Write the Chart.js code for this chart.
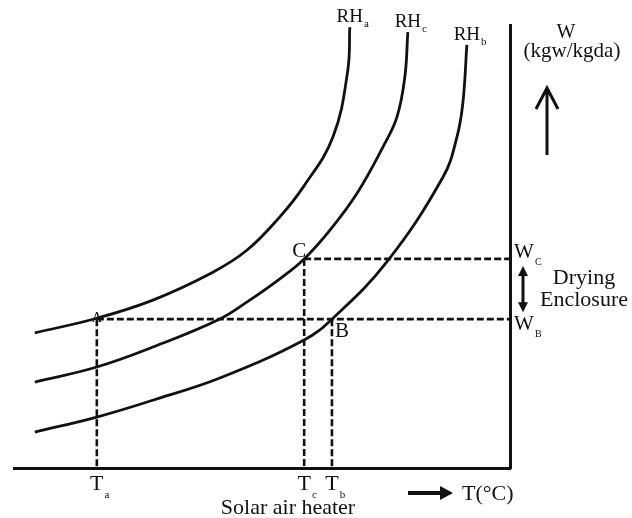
<!DOCTYPE html>
<html>
<head>
<meta charset="utf-8">
<script src="https://cdn.jsdelivr.net/npm/chart.js@4.4.0/dist/chart.umd.min.js"></script>
<style>
  html, body { margin: 0; padding: 0; background: #fff; }
  #wrap { width: 632px; height: 518px; }
</style>
</head>
<body>
<div id="wrap"><canvas id="myChart" width="632" height="518"></canvas></div>
<script>
// relative humidity curves (T, W)
var rhaT = [4.2, 16.7, 28.0, 40.1, 47.0, 53.6, 58.3, 64.3, 67.3, 67.7];
var rhaW = [30.5, 33.8, 37.9, 44.2, 49.2, 56.7, 63.4, 74.7, 89.8, 99.5];
var rhcT = [4.2, 16.7, 28.0, 41.1, 47.0, 53.6, 58.5, 63.7, 69.2, 74.4, 77.2, 78.8, 79.4];
var rhcW = [19.4, 22.8, 27.3, 33.4, 37.5, 42.7, 47.2, 53.7, 62.1, 72.5, 79.2, 88.3, 98.4];
var rhbT = [4.2, 16.7, 28.0, 41.5, 58.5, 64.1, 75.0, 86.5, 89.3, 90.5, 91.3];
var rhbW = [8.1, 11.5, 15.3, 20.3, 28.9, 33.6, 46.3, 65.7, 74.7, 82.4, 95.5];
var curveNames = ['a', 'c', 'b'];

// states A, C, B
var stateNames = ['A', 'C', 'B'];
var stateSubs = ['a', 'c', 'b'];
var stateT = [16.7, 58.5, 64.1];
var stateW = [33.6, 47.2, 33.6];

var X_MAX = 100, Y_MAX = 100;
var FONT = '"Liberation Serif", "Times New Roman", serif';
var INK = '#111';

function toPoints(xs, ys) {
  return xs.map(function (v, i) { return { x: v, y: ys[i] }; });
}

var curves = [toPoints(rhaT, rhaW), toPoints(rhcT, rhcW), toPoints(rhbT, rhbW)];

var datasets = curves.map(function (pts) {
  return {
    data: pts,
    showLine: true,
    borderColor: INK,
    borderWidth: 2.8,
    pointRadius: 0,
    tension: 0.4,
    clip: false
  };
});

function dashed(pts) {
  return {
    data: pts,
    showLine: true,
    borderColor: INK,
    borderWidth: 2.6,
    borderDash: [7, 3],
    pointRadius: 0,
    tension: 0,
    clip: false
  };
}

// horizontal dashed lines from A and C to the W axis
datasets.push(dashed([{ x: stateT[0], y: stateW[0] }, { x: X_MAX, y: stateW[0] }]));
datasets.push(dashed([{ x: stateT[1], y: stateW[1] }, { x: X_MAX, y: stateW[1] }]));
// vertical dashed lines down to the T axis
for (var i = 0; i < stateT.length; i++) {
  datasets.push(dashed([{ x: stateT[i], y: stateW[i] }, { x: stateT[i], y: 0 }]));
}

function text(ctx, s, x, y, size, align) {
  ctx.font = size + 'px ' + FONT;
  ctx.textAlign = align || 'left';
  ctx.textBaseline = 'alphabetic';
  ctx.fillText(s, x, y);
}

// main text + small subscript; x is centre of main text
function subText(ctx, main, sub, x, y, size, subSize, drop) {
  ctx.font = size + 'px ' + FONT;
  var w = ctx.measureText(main).width;
  text(ctx, main, x - w / 2, y, size, 'left');
  text(ctx, sub, x + w / 2 + 1, y + drop, subSize, 'left');
}

function arrowHead(ctx, x, y, dx, dy, len, half) {
  // filled triangle pointing in direction (dx, dy)
  ctx.beginPath();
  ctx.moveTo(x, y);
  ctx.lineTo(x - dx * len - dy * half, y - dy * len + dx * half);
  ctx.lineTo(x - dx * len + dy * half, y - dy * len - dx * half);
  ctx.closePath();
  ctx.fill();
}

var labelsPlugin = {
  id: 'labels',
  afterDraw: function (chart) {
    var ctx = chart.ctx;
    var ca = chart.chartArea;
    var sx = chart.scales.x, sy = chart.scales.y;
    ctx.save();
    ctx.fillStyle = INK;
    ctx.strokeStyle = INK;

    // RH labels at the top of each curve
    curves.forEach(function (pts, k) {
      var top = pts[pts.length - 1];
      subText(ctx, 'RH', curveNames[k], sx.getPixelForValue(top.x), sy.getPixelForValue(top.y) - 5, 19, 11, 5);
    });

    // state labels
    var ax = sx.getPixelForValue(stateT[0]), ay = sy.getPixelForValue(stateW[0]);
    text(ctx, stateNames[0], ax, ay + 3, 15, 'center');
    var cx = sx.getPixelForValue(stateT[1]), cy = sy.getPixelForValue(stateW[1]);
    text(ctx, stateNames[1], cx + 2, cy - 2, 21, 'right');
    var bx = sx.getPixelForValue(stateT[2]), by = sy.getPixelForValue(stateW[2]);
    text(ctx, stateNames[2], bx + 3, by + 18, 21, 'left');

    // temperature labels under the axis
    for (var i = 0; i < stateT.length; i++) {
      subText(ctx, 'T', stateSubs[i], sx.getPixelForValue(stateT[i]), ca.bottom + 22, 22, 11, 8);
    }
    text(ctx, 'Solar air heater', 288, ca.bottom + 46, 22, 'center');

    // T axis arrow + title
    ctx.lineWidth = 4;
    ctx.beginPath();
    ctx.moveTo(408, ca.bottom + 25);
    ctx.lineTo(442, ca.bottom + 25);
    ctx.stroke();
    arrowHead(ctx, 453, ca.bottom + 25, 1, 0, 13, 7);
    text(ctx, 'T(°C)', 462, ca.bottom + 32, 22, 'left');

    // W axis title + up arrow
    text(ctx, 'W', ca.right + 56, ca.top + 13, 20, 'center');
    text(ctx, '(kgw/kgda)', ca.right + 62, ca.top + 32, 21, 'center');
    var ux = ca.right + 37;
    ctx.lineWidth = 3;
    ctx.beginPath();
    ctx.moveTo(ux, 88);
    ctx.lineTo(ux, 155);
    ctx.moveTo(ux - 11, 109);
    ctx.lineTo(ux, 88);
    ctx.lineTo(ux + 11, 109);
    ctx.stroke();

    // W_C, W_B labels
    subText(ctx, 'W', 'C', ca.right + 14, cy - 1, 21, 10, 7);
    subText(ctx, 'W', 'B', ca.right + 14, ay + 11, 21, 10, 7);

    // double arrow + Drying Enclosure
    var dx = ca.right + 13;
    ctx.lineWidth = 3;
    ctx.beginPath();
    ctx.moveTo(dx, cy + 14);
    ctx.lineTo(dx, ay - 14);
    ctx.stroke();
    arrowHead(ctx, dx, cy + 7, 0, -1, 10, 5);
    arrowHead(ctx, dx, ay - 7, 0, 1, 10, 5);
    text(ctx, 'Drying', ca.right + 74, cy + 25, 22, 'center');
    text(ctx, 'Enclosure', ca.right + 74, cy + 47, 22, 'center');

    ctx.restore();
  }
};

var ctx = document.getElementById('myChart').getContext('2d');
var chart = new Chart(ctx, {
  type: 'scatter',
  data: { datasets: datasets },
  options: {
    responsive: false,
    animation: false,
    layout: { padding: { left: 14, right: 122, top: 25, bottom: 50 } },
    scales: {
      x: {
        type: 'linear', min: 0, max: X_MAX, position: 'bottom',
        ticks: { display: false },
        grid: { display: false },
        border: { display: true, color: INK, width: 3 },
        afterFit: function (s) { s.height = 0; }
      },
      y: {
        type: 'linear', min: 0, max: Y_MAX, position: 'right',
        ticks: { display: false },
        grid: { display: false },
        border: { display: true, color: INK, width: 3 },
        afterFit: function (s) { s.width = 0; }
      }
    },
    plugins: {
      legend: { display: false },
      tooltip: { enabled: false }
    }
  },
  plugins: [labelsPlugin]
});
</script>
</body>
</html>
